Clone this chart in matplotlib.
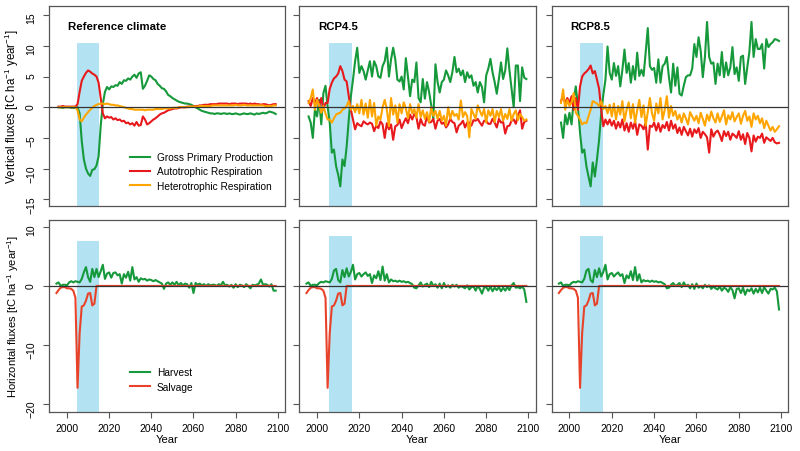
import numpy as np
import matplotlib.pyplot as plt

plt.rcParams['font.family'] = ['Liberation Sans', 'DejaVu Sans']
plt.rcParams['mathtext.fontset'] = 'custom'
plt.rcParams['mathtext.rm'] = 'Liberation Sans'
plt.rcParams['mathtext.it'] = 'Liberation Sans:italic'

# ---------------- data ----------------
years_top = np.arange(1996, 2100)   # vertical fluxes
years_bot = np.arange(1995, 2100)   # horizontal fluxes

scenarios = ['Reference climate', 'RCP4.5', 'RCP8.5']

# Reference climate
gpp_ref = [0, 0, -0.1, 0,
           0, 0, -0.1, -0.1, -0.1, 0, -1, -5.5, -8.5, -10,
           -10.8, -11.2, -10.2, -10.1, -9.5, -8, -3, 0.5, 2.5, 3.3,
           2.9, 3.4, 3.3, 3.6, 3.5, 4.1, 3.8, 4.4, 4.3, 4.7,
           4.5, 5.0, 5.3, 4.8, 5.5, 5.7, 3.0, 3.5, 4.3, 5.2,
           5.0, 4.6, 4.4, 3.8, 3.5, 3.1, 3.0, 2.6, 2.0, 1.8,
           1.5, 1.3, 1.1, 0.9, 0.8, 0.7, 0.6, 0.6, 0.5, 0.4,
           0.2, 0.0, -0.2, -0.4, -0.6, -0.7, -0.8, -0.9, -1.0, -1.0,
           -1.1, -1.0, -1.0, -1.1, -1.0, -1.0, -1.1, -1.0, -1.1, -1.1,
           -1.0, -1.1, -1.2, -1.1, -1.0, -1.1, -1.1, -1.0, -1.1, -1.2,
           -1.0, -1.1, -1.0, -0.9, -1.0, -0.9, -0.7, -0.8, -0.9, -1.1]
ar_ref = [0.1, 0.1, 0.2, 0.1,
          0.1, 0.1, 0.1, 0.1, 0.1, 0.5, 2.5, 4.3, 5.0, 5.6,
          6.0, 5.8, 5.5, 5.3, 5.0, 4.0, 1.5, -1.0, -1.8, -1.5,
          -1.7, -1.6, -2.0, -1.8, -2.1, -2.0, -2.3, -2.2, -2.6, -2.5,
          -2.8, -2.6, -3.0, -2.4, -3.0, -2.9, -1.5, -2.0, -2.8, -2.6,
          -2.3, -2.0, -1.8, -1.5, -1.2, -1.0, -0.9, -0.7, -0.5, -0.4,
          -0.3, -0.2, -0.2, -0.1, 0.0, 0.0, 0.0, 0.1, 0.1, 0.1,
          0.1, 0.2, 0.2, 0.3, 0.3, 0.4, 0.4, 0.4, 0.5, 0.5,
          0.5, 0.5, 0.6, 0.6, 0.6, 0.6, 0.6, 0.5, 0.6, 0.6,
          0.6, 0.5, 0.6, 0.6, 0.6, 0.6, 0.5, 0.6, 0.5, 0.6,
          0.5, 0.5, 0.4, 0.5, 0.5, 0.4, 0.3, 0.4, 0.5, 0.5]
hr_ref = [0, 0, 0, 0,
          0, 0, 0, 0, 0, -0.5, -2.0, -2.3, -1.7, -1.2,
          -0.8, -0.4, -0.1, 0.2, 0.4, 0.5, 0.6, 0.6, 0.5, 0.6,
          0.5, 0.4, 0.4, 0.3, 0.3, 0.2, 0.1, 0.0, -0.1, -0.2,
          -0.3, -0.3, -0.4, -0.4, -0.4, -0.4, -0.4, -0.5, -0.4, -0.4,
          -0.4, -0.4, -0.3, -0.3, -0.3, -0.3, -0.2, -0.2, -0.2, -0.2,
          -0.1, -0.1, -0.1, 0.0, 0.0, 0.0, 0.0, 0.0, 0.1, 0.1,
          0.1, 0.1, 0.1, 0.2, 0.2, 0.2, 0.2, 0.2, 0.2, 0.3,
          0.3, 0.3, 0.3, 0.3, 0.3, 0.3, 0.3, 0.3, 0.3, 0.3,
          0.4, 0.3, 0.3, 0.3, 0.4, 0.3, 0.3, 0.3, 0.3, 0.3,
          0.3, 0.3, 0.3, 0.3, 0.2, 0.2, 0.2, 0.2, 0.3, 0.3]

# RCP4.5
gpp_45 = [-1.5, -2.5, -5.0, -0.4,
          -1.5, 1.2, -2.8, 2.3, 3.5, 0.1, -2.5, -7.4, -6.9, -9.6,
          -11.0, -12.9, -8.5, -9.6, -6.4, -2.0, 1.8, 4.5, 7.5, 9.7,
          5.6, 6.7, 5.9, 4.5, 6.0, 7.5, 5.0, 7.5, 6.7, 5.0,
          4.8, 6.7, 7.5, 9.7, 5.0, 7.8, 9.7, 7.8, 4.5, 4.2,
          5.0, 2.9, 8.0, 5.0, 1.8, 4.5, 4.1, 7.3, 1.5, 0.8,
          4.6, 1.4, 4.1, 2.5, 0.3, -1.9, 7.0, 4.1, 2.4, 4.1,
          4.5, 6.0, 5.2, 4.1, 5.7, 8.2, 5.7, 6.3, 5.2, 6.0,
          4.1, 5.7, 4.8, 5.2, 3.5, 4.1, 2.4, 4.1, 3.3, 0.8,
          5.2, 6.3, 7.9, 5.7, 4.1, 2.2, 4.6, 7.3, 4.6, 6.0,
          9.6, 6.0, 3.0, 0.0, 6.8, 6.8, 1.0, 6.5, 4.8, 4.6]
ar_45 = [1.0, 0.2, 1.5, 0.7,
         1.5, 0.2, 1.5, -0.4, 0.7, 0.7, 3.0, 4.0, 4.7, 5.0,
         5.5, 6.7, 5.9, 4.5, 4.2, 1.8, -0.4, -2.0, -3.6, -2.6,
         -2.9, -3.1, -2.3, -2.6, -2.8, -2.5, -2.7, -3.9, -3.0, -3.4,
         -2.3, -2.8, -5.0, -2.6, -3.6, -2.8, -5.3, -3.1, -2.9, -2.0,
         -3.4, -2.5, -1.8, -2.6, -1.2, -2.0, -1.1, -1.6, -3.5, -1.9,
         -2.8, -3.0, -1.4, -2.5, -2.4, -1.9, -3.5, -2.2, -1.9, -2.7,
         -2.5, -3.3, -2.8, -1.9, -2.4, -2.6, -4.1, -3.0, -2.7, -2.2,
         -3.3, -2.5, -2.5, -3.0, -2.1, -2.2, -1.9, -2.5, -3.0, -2.2,
         -2.2, -2.7, -2.7, -1.9, -2.5, -3.3, -1.9, -2.5, -2.4, -4.3,
         -3.1, -3.0, -2.2, -2.0, -2.7, -1.4, -0.5, -3.5, -2.4, -2.2]
hr_45 = [0.7, 1.5, 2.9, -0.4,
         1.2, 0.3, -0.9, 0.2, -1.0, -2.0, -2.0, -2.5, -1.8, -1.2,
         -1.0, -0.9, -0.4, -0.2, 0.2, 1.0, -0.4, 0.2, -0.8, 0.5,
         -1.0, 1.2, -1.2, 0.6, -1.7, 1.2, -1.5, 0.7, -3.0, -1.5,
         -2.0, 0.0, 1.2, -0.3, -3.1, 1.5, -1.2, 0.3, -2.5, 0.5,
         -1.0, 0.8, -0.2, -1.8, 0.5, -1.0, -0.3, -1.7, 0.5, -1.6,
         -0.5, -1.9, -0.8, -2.4, 0.0, -1.4, -0.6, -1.9, -0.6, -2.2,
         -1.4, -3.0, 0.0, -1.9, -0.6, -1.4, -1.1, -2.0, 1.1, -1.6,
         -0.8, -1.4, -4.9, -0.3, -1.1, -1.9, 0.3, -0.6, -1.4, -0.3,
         -2.5, -0.5, -1.4, -0.3, -2.4, -0.6, -1.6, -0.3, -2.2, -1.1,
         -1.9, -0.3, -2.2, -1.1, -0.5, -2.1, -1.1, -1.6, -2.2, -2.0]

# RCP8.5
gpp_85 = [-2.5, -5.0, -1.2, -2.8,
          -0.9, -2.8, 1.2, 3.4, 0.2, -4.2, -7.4, -6.9, -9.6, -11.3,
          -12.9, -9.0, -11.3, -8.5, -5.3, -1.0, 2.0, 4.5, 9.9, 5.6,
          4.5, 7.2, 5.1, 6.7, 3.4, 6.1, 9.4, 5.6, 7.2, 4.0,
          6.7, 4.5, 8.9, 5.1, 6.1, 5.1, 8.9, 12.9, 6.7, 6.1,
          6.4, 4.0, 7.8, 4.0, 6.7, 7.1, 8.2, 4.9, 2.4, 7.1,
          3.5, 6.5, 2.2, 1.9, 3.5, 4.9, 5.2, 5.2, 6.3, 10.3,
          8.2, 11.4, 9.2, 4.9, 8.2, 13.9, 8.2, 7.1, 7.3, 3.8,
          7.1, 5.2, 9.0, 4.9, 7.3, 5.2, 6.5, 9.8, 5.4, 6.5,
          4.3, 8.2, 8.4, 3.8, 6.5, 9.0, 13.9, 8.2, 11.1, 9.5,
          9.5, 10.3, 6.3, 11.1, 9.8, 10.3, 10.6, 11.1, 11.0, 10.8]
ar_85 = [1.0, 1.8, 0.7, 1.5,
         0.7, 1.8, -0.4, 1.5, -0.4, 3.4, 5.0, 5.5, 5.8, 6.2,
         6.8, 5.5, 5.9, 4.5, 3.0, -0.4, -3.1, -2.0, -2.8, -2.0,
         -3.0, -2.2, -3.5, -2.4, -3.3, -2.0, -3.8, -2.6, -4.0, -2.5,
         -3.5, -2.3, -4.5, -2.8, -3.0, -3.6, -2.5, -6.9, -3.0, -3.2,
         -2.5, -3.8, -2.6, -4.0, -2.9, -3.4, -2.4, -3.8, -2.2, -3.5,
         -2.8, -4.2, -3.3, -4.5, -3.2, -3.9, -4.6, -3.5, -4.8, -3.6,
         -4.2, -3.4, -5.0, -4.0, -4.4, -4.9, -7.4, -3.6, -4.8, -4.1,
         -3.8, -4.5, -5.5, -3.9, -4.7, -4.0, -5.3, -4.3, -4.6, -5.0,
         -3.9, -5.3, -4.4, -6.0, -4.2, -5.0, -7.2, -4.6, -5.6, -4.8,
         -5.0, -4.3, -5.8, -4.9, -5.2, -5.5, -5.0, -5.7, -5.9, -5.8]
hr_85 = [0.7, 2.9, -0.4, 1.2,
         0.2, 0.8, 2.3, -0.9, -1.4, -2.0, -2.8, -2.5, -2.6, -1.5,
         -0.4, 1.0, 0.8, 0.6, 0.2, 1.0, -0.3, 0.2, -1.0, 0.4,
         -1.5, 0.6, -2.0, 0.2, -1.2, 1.0, -2.3, -0.4, 0.8, -1.8,
         0.5, -2.5, -0.5, 1.2, -1.6, 0.3, -3.0, -0.8, 1.5, -1.0,
         -2.2, 0.6, -1.0, 1.5, -2.0, -0.4, 1.8, -1.7, 0.2, -1.4,
         -0.6, -2.0, -1.2, -2.5, -1.0, -1.8, -2.8, -0.8, -1.5, -2.2,
         -1.4, -2.6, -0.9, -1.9, -3.0, -1.2, -2.2, -0.7, -1.8, -2.5,
         -1.0, -2.4, -1.5, -0.5, -2.8, -1.3, -2.0, -0.8, -2.3, -1.6,
         -1.0, -2.7, -1.4, -0.6, -2.2, -1.5, -3.2, -1.0, -2.0, -1.4,
         -2.6, -1.8, -3.4, -2.2, -3.0, -3.8, -3.2, -4.0, -3.6, -3.1]

# horizontal fluxes (1995-2099)
harvest_ref = [0.4, 0.6, 0.0, 0.2, 0.2,
               0.1, 0.6, 0.8, 0.6, 0.8, 0.7, 0.6, 1.2, 2.3, 3.2,
               1.5, 0.7, 2.9, 1.5, 2.9, 1.5, 2.5, 3.6, 1.2, 2.1,
               2.3, 1.4, 2.2, 2.3, 1.8, 2.0, 0.4, 2.0, 1.4, 2.4,
               0.9, 3.2, 1.1, 1.5, 0.7, 1.3, 1.1, 1.2, 0.9, 1.1,
               1.0, 0.8, 1.0, 0.8, 0.6, 0.4, -0.5, 0.4, 0.6, 0.2,
               0.6, 0.2, 0.7, 0.1, 0.5, 0.1, 0.4, 0.3, -0.3, 0.5,
               -1.2, 0.5, 0.2, 0.4, 0.1, 0.3, 0.0, 0.3, 0.1, 0.2,
               0.2, 0.0, 0.3, 0.1, 0.7, 0.1, 0.2, -0.1, 0.2, -0.3,
               0.3, -0.2, 0.2, 0.1, -0.2, 0.3, 0.0, -0.4, 0.2, 0.1,
               0.2, 0.4, 1.1, 0.2, 0.3, 0.2, -0.1, 0.3, -0.8, -0.8]
harvest_45 = [0.4, 0.6, 0.0, 0.2, 0.2,
              0.1, 0.5, 0.7, 0.6, 0.8, 0.7, 0.6, 1.2, 2.6, 2.9,
              1.0, 0.6, 2.7, 1.5, 3.0, 1.6, 2.4, 3.6, 1.1, 2.0,
              2.2, 1.6, 2.0, 2.3, 1.7, 2.0, 0.5, 1.8, 1.3, 2.5,
              1.0, 3.3, 0.9, 2.0, 0.6, 1.1, 0.8, 0.9, 0.7, 0.9,
              0.7, 0.8, 0.6, 0.7, 0.5, 0.3, -0.3, -0.4, 0.1, 0.6,
              -0.1, 0.2, 0.4, -0.2, 0.7, 0.0, 0.3, -0.3, 0.4, -0.4,
              0.5, -0.2, 0.1, -0.3, 0.2, -0.1, 0.2, -0.3, 0.0, -0.2,
              -0.4, 0.1, -0.6, -0.2, -0.1, -0.8, 0.0, -0.5, -1.3, -0.3,
              -0.2, -0.8, -0.1, -0.9, -0.3, -0.7, -0.2, -0.9, -0.3, -0.8,
              -0.2, -0.7, 0.1, 0.5, -0.3, -0.2, -0.4, -0.1, -0.6, -2.7]
harvest_85 = [0.4, 0.6, 0.0, 0.2, 0.2,
              0.1, 0.5, 0.7, 0.6, 0.8, 0.7, 0.6, 1.2, 2.6, 2.9,
              1.0, 0.6, 2.7, 1.5, 3.0, 1.6, 2.4, 3.6, 1.1, 2.0,
              2.2, 1.6, 2.0, 2.3, 1.7, 2.0, 0.5, 1.8, 1.3, 2.5,
              1.0, 3.2, 0.9, 2.0, 0.6, 1.0, 0.8, 0.9, 0.7, 0.9,
              0.7, 0.8, 0.6, 0.7, 0.5, 0.3, -0.4, -0.3, 0.2, 0.5,
              0.0, 0.2, 0.5, -0.2, 0.6, 0.0, 0.2, -0.4, 0.3, -0.5,
              0.4, -0.3, 0.0, -0.4, 0.2, -0.2, 0.1, -0.5, -0.1, -0.4,
              -0.6, -0.1, -0.8, -0.3, -0.5, -1.0, -0.2, -0.7, -2.1, -0.5,
              -0.4, -1.2, -0.3, -1.5, -0.6, -0.9, -0.4, -1.3, -0.5, -1.1,
              -0.3, -1.2, -0.2, -0.8, -1.3, -0.5, -0.6, -0.3, -0.9, -4.0]
salvage = [-1.2, -0.7, -0.3, -0.2, -0.2,
           -0.4, -0.4, -0.5, -0.8, -2.0, -17.3, -8.0, -3.5, -3.3, -2.5,
           -1.3, -1.2, -3.3, -3.0] + [0.0] * 86

# disturbance period (shaded) per scenario
disturbance = [(2004.7, 2015.4), (2005.6, 2016.5), (2005.0, 2016.0)]

vertical = [(gpp_ref, ar_ref, hr_ref), (gpp_45, ar_45, hr_45), (gpp_85, ar_85, hr_85)]
horizontal = [harvest_ref, harvest_45, harvest_85]

# ---------------- styling ----------------
c_gpp = '#16993b'
c_ar = '#e8191c'
c_hr = '#ffa500'
c_salv = '#e8432a'
c_shade = '#b3e3f2'
c_frame = '#555555'

fig = plt.figure(figsize=(8, 4.52), dpi=100)
lefts = [0.0616, 0.3741, 0.6896]
widths = [0.2946, 0.2955, 0.2958]
xlim = (1991.6, 2103.4)


def style_axes(ax, first):
    for sp in ax.spines.values():
        sp.set_color(c_frame)
        sp.set_linewidth(0.9)
    ax.tick_params(colors=c_frame, labelcolor='black', length=4.5, width=0.8,
                   labelsize=7.5)
    ax.tick_params(axis='y', labelrotation=90, pad=5)
    if not first:
        ax.tick_params(axis='y', labelleft=False)
    ax.set_xlim(*xlim)


for j in range(3):
    gpp, ar, hr = vertical[j]
    ax = fig.add_axes([lefts[j], 0.542, widths[j], 0.4425])
    ax.fill_between(disturbance[j], -16.1, 10.5, color=c_shade, lw=0, zorder=0)
    ax.plot(years_top, gpp, color=c_gpp, lw=1.5, label='Gross Primary Production')
    ax.plot(years_top, ar, color=c_ar, lw=1.5, label='Autotrophic Respiration')
    ax.plot(years_top, hr, color=c_hr, lw=1.5, label='Heterotrophic Respiration')
    ax.axhline(0, color='#333333', lw=0.9, zorder=5)
    ax.set_ylim(-16.1, 16.5)
    ax.set_yticks([-15, -10, -5, 0, 5, 10, 15])
    style_axes(ax, j == 0)
    ax.tick_params(axis='x', bottom=False, labelbottom=False)
    ax.text(0.08, 0.9, scenarios[j], transform=ax.transAxes, fontsize=8.2,
            fontweight='bold', va='center', ha='left')
    if j == 0:
        ax.set_ylabel(r'Vertical fluxes [tC ha$^{-1}$ year$^{-1}$]', fontsize=8.3)
        ax.yaxis.set_label_coords(-0.122, 0.5)
        ax.legend(loc='upper left', bbox_to_anchor=(0.342, 0.269), frameon=False,
                  fontsize=7.3, borderpad=0, borderaxespad=0, handlelength=1.95,
                  handletextpad=0.7, labelspacing=0.42)

    axb = fig.add_axes([lefts[j], 0.0863, widths[j], 0.4248])
    shade_top = 7.7 if j == 0 else 8.5
    axb.fill_between(disturbance[j], -21.4, shade_top, color=c_shade, lw=0, zorder=0)
    axb.plot(years_bot, horizontal[j], color=c_gpp, lw=1.5, label='Harvest')
    axb.plot(years_bot, salvage, color=c_salv, lw=1.5, label='Salvage')
    axb.axhline(0, color='#333333', lw=0.9, zorder=5)
    axb.set_ylim(-21.4, 11.2)
    axb.set_yticks([-20, -10, 0, 10])
    axb.set_xticks([2000, 2020, 2040, 2060, 2080, 2100])
    style_axes(axb, j == 0)
    axb.tick_params(axis='x', pad=3.5)
    axb.set_xlabel('Year', fontsize=8)
    axb.xaxis.set_label_coords(0.5, -0.115)
    if j == 0:
        axb.set_ylabel(r'Horizontal fluxes [tC ha$^{-1}$ year$^{-1}$]', fontsize=8.0)
        axb.yaxis.set_label_coords(-0.122, 0.5)
        axb.legend(loc='upper left', bbox_to_anchor=(0.342, 0.233), frameon=False,
                   fontsize=7.3, borderpad=0, borderaxespad=0, handlelength=1.95,
                   handletextpad=0.7, labelspacing=0.42)

fig.savefig('out.png', dpi=100)
